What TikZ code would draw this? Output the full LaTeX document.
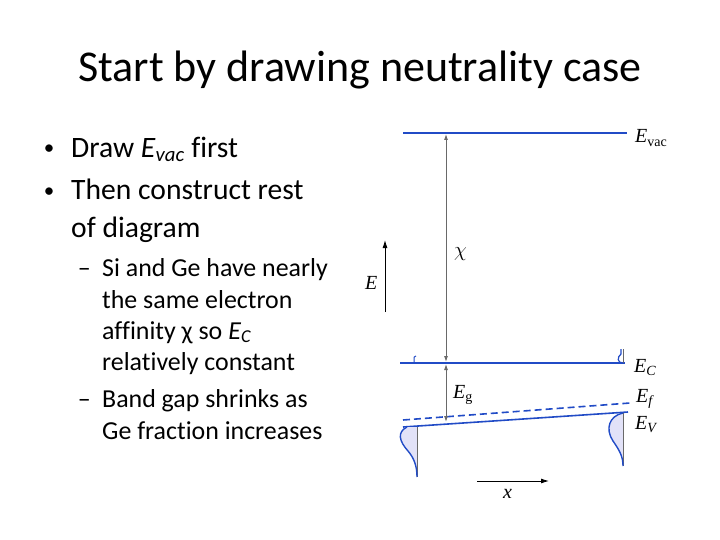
\documentclass[tikz,border=0pt]{standalone}
\usepackage{fontspec}
\setmainfont{Carlito}[Ligatures=CommonOff]
\newfontfamily\tms{Liberation Serif}
\usetikzlibrary{arrows.meta}
\definecolor{band}{RGB}{33,75,198}
\definecolor{arrowgray}{RGB}{105,105,105}
\definecolor{dosfill}{RGB}{226,226,248}
\tikzset{
  title/.style={anchor=base, font=\fontsize{44}{50}\selectfont, inner sep=0},
  lone/.style={anchor=base west, font=\fontsize{29.6}{36}\selectfont, inner sep=0},
  ltwo/.style={anchor=base west, font=\fontsize{25.9}{31}\selectfont, inner sep=0},
  bulletmark/.style={anchor=base, font=\fontsize{21}{24}\selectfont, inner sep=0},
  bandline/.style={draw=band, line width=1.6pt},
  dosline/.style={draw=band, line width=1.4pt},
  dimarrow/.style={draw=arrowgray, line width=0.9pt, {Latex[length=6pt,width=4pt]}-{Latex[length=6pt,width=4pt]}},
  axarrow/.style={draw=black, line width=0.9pt, -{Latex[length=8pt,width=5pt]}},
  lbl/.style={anchor=base west, font=\tms\fontsize{20}{22}\selectfont, inner sep=0},
}
\begin{document}
\begin{tikzpicture}[x=1pt,y=-1pt]
\useasboundingbox (0,0) rectangle (720,540);
% title
\node[title] (title) at (360,82) {Start by drawing neutrality case};
% bullets
\node[bulletmark] (bu1) at (49,155) {•};
\node[lone] (l1) at (71,158) {Draw \textit{E}\textsubscript{\textit{vac}} first};
\node[bulletmark] (bu2) at (49,197) {•};
\node[lone] (l2) at (71,200) {Then construct rest};
\node[lone] (l3) at (71,237) {of diagram};
\node[ltwo, anchor=base east] (d1) at (91,276) {–};
\node[ltwo] (l4) at (102,276) {Si and Ge have nearly};
\node[ltwo] (l5) at (102,308) {the same electron};
\node[ltwo] (l6) at (102,339) {affinity χ so \textit{E}\textsubscript{\textit{C}}};
\node[ltwo] (l7) at (102,370) {relatively constant};
\node[ltwo, anchor=base east] (d2) at (91,407) {–};
\node[ltwo] (l8) at (102,407) {Band gap shrinks as};
\node[ltwo] (l9) at (102,439) {Ge fraction increases};
% band lines
\coordinate (vacL) at (403,133); \coordinate (vacR) at (627,133);
\coordinate (cL) at (400,363); \coordinate (cR) at (625,363);
\coordinate (fL) at (403,420); \coordinate (fR) at (630,403);
\coordinate (vL) at (403,427); \coordinate (vR) at (628,412);
\draw[bandline] (vacL) -- (vacR);
\draw[bandline] (cL) -- (cR);
\draw[bandline, dash pattern=on 7pt off 4pt] (fL) -- (fR);
\draw[bandline] (vL) -- (vR);
% tiny conduction band tails
\draw[dosline, line width=1pt] (414,363) -- (414,358) .. controls (414,357) .. (416,356);
\draw[draw=arrowgray, line width=0.8pt] (623,363) -- (623,349);
\draw[dosline, line width=1.2pt] (623,363) .. controls (617,363) and (617,357) .. (621,354) -- (621,349);
% valence DOS left
\coordinate (dl0) at (417,427); \coordinate (dl1) at (417,477);
\fill[dosfill] (406,427) .. controls (397,432) and (399,441) .. (408,451) .. controls (414,458) and (417,466) .. (417,477) -- (417,427) -- cycle;
\draw[draw=arrowgray, line width=0.8pt] (dl0) -- (dl1);
\draw[dosline] (407,427) .. controls (397,432) and (399,441) .. (408,451) .. controls (414,458) and (417,466) .. (dl1);
% valence DOS right
\coordinate (dr0) at (623,413); \coordinate (dr1) at (623,466);
\fill[dosfill] (dr0) .. controls (609,416) and (605,429) .. (613,441) .. controls (620,451) and (623,457) .. (dr1) -- cycle;
\draw[draw=arrowgray, line width=0.8pt] (dr0) -- (dr1);
\draw[dosline] (dr0) .. controls (609,416) and (605,429) .. (613,441) .. controls (620,451) and (623,457) .. (dr1);
% dimension arrows
\coordinate (chiT) at (446,134); \coordinate (chiB) at (446,362);
\coordinate (egT) at (446,364); \coordinate (egB) at (446,422);
\draw[dimarrow] (chiB) -- (chiT);
\draw[dimarrow] (egT) -- (egB);
% axes arrows
\coordinate (eA) at (385,312); \coordinate (eB) at (385,240);
\draw[axarrow] (eA) -- (eB);
\coordinate (xA) at (477,481); \coordinate (xB) at (549,481);
\draw[axarrow] (xA) -- (xB);
% labels
\node[lbl] (Evac) at (635,143) {\itshape E\upshape\textsubscript{vac}};
\node[lbl] (Ec) at (634,372) {\itshape E\textsubscript{C}};
\node[lbl] (Ef) at (636,402) {\itshape E\textsubscript{f}};
\node[lbl] (Ev) at (635,429) {\itshape E\textsubscript{V}};
\node[lbl] (chi) at (454,256) {$\chi$};
\node[lbl] (Elab) at (365,289) {\itshape E};
\node[lbl] (Eg) at (453,398) {\itshape E\upshape\textsubscript{g}};
\node[lbl] (xlab) at (503,498) {\itshape x};
\end{tikzpicture}
\end{document}
